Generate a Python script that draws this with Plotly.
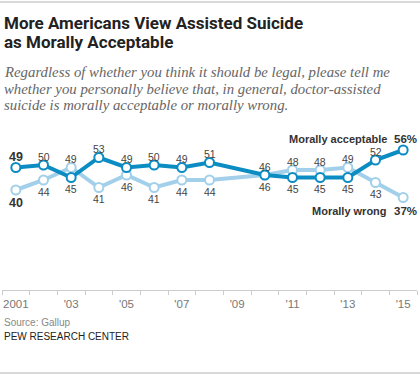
import plotly.graph_objects as go

years = [2001, 2002, 2003, 2004, 2005, 2006, 2007, 2008, 2010, 2011, 2012, 2013, 2014, 2015]
acceptable = [49, 50, 45, 53, 49, 50, 49, 51, 46, 45, 45, 45, 52, 56]
wrong = [40, 44, 49, 41, 46, 41, 44, 44, 46, 48, 48, 49, 43, 37]
# label placement: 1 = above, -1 = below, 0 = none (end label)
acc_pos = [1, 1, -1, 1, 1, 1, 1, 1, 1, -1, -1, -1, 1, 0]
wrong_pos = [-1, -1, 1, -1, -1, -1, -1, -1, -1, 1, 1, 1, -1, 0]
tick_years = [2001, 2003, 2005, 2007, 2009, 2011, 2013, 2015]
tick_text = ["2001", "'03", "'05", "'07", "'09", "'11", "'13", "'15"]

DARK = "#0b8cc2"
LIGHT = "#a2d0ea"
W, H = 420, 381
L, R, T, B = 2, 3, 140, 91

def px(p):
    return (p - L) / (W - L - R)

def py(p):
    return (H - B - p) / (H - T - B)

xs = [y + 0.5 for y in years]

fig = go.Figure()
fig.add_trace(go.Scatter(x=xs, y=wrong, mode="lines+markers",
                         line=dict(color=LIGHT, width=4),
                         marker=dict(size=9, color="white", line=dict(color=LIGHT, width=2)),
                         hoverinfo="skip"))
fig.add_trace(go.Scatter(x=xs, y=acceptable, mode="lines+markers",
                         line=dict(color=DARK, width=4),
                         marker=dict(size=9, color="white", line=dict(color=DARK, width=2)),
                         hoverinfo="skip"))

ann = []
FAM = "Liberation Sans, Arial, sans-serif"
lab_font = dict(family=FAM, size=10.5, color="#444")
bold_font = dict(family=FAM, size=12.5, color="#333", weight="bold")
for series, pos in ((acceptable, acc_pos), (wrong, wrong_pos)):
    for i, (x, v, p) in enumerate(zip(xs, series, pos)):
        if p == 0:
            continue
        shift = 8.5 if p > 0 else -11.5
        if i == 0:
            shift = 11 if p > 0 else -13
        ann.append(dict(x=x, y=v, xref="x", yref="y", text=str(v), showarrow=False,
                        yshift=shift, font=bold_font if i == 0 else lab_font))

# end labels
end_font = dict(family=FAM, size=11, color="#333", weight="bold")
pct_font = dict(family=FAM, size=11.5, color="#333", weight="bold")
ann.append(dict(x=px(389), y=py(139), xref="paper", yref="paper", xanchor="right", yanchor="middle",
                text="Morally acceptable", showarrow=False, font=end_font))
ann.append(dict(x=px(389), y=py(210.5), xref="paper", yref="paper", xanchor="right", yanchor="middle",
                text="Morally wrong", showarrow=False, font=end_font))
ann.append(dict(x=px(419), y=py(139), xref="paper", yref="paper", xanchor="right", yanchor="middle",
                text=f"{acceptable[-1]}%", showarrow=False, font=pct_font))
ann.append(dict(x=px(419), y=py(210.5), xref="paper", yref="paper", xanchor="right", yanchor="middle",
                text=f"{wrong[-1]}%", showarrow=False, font=pct_font))

# title / subtitle
title_font = dict(family="Roboto, Liberation Sans, sans-serif", size=17, color="#222", weight="bold")
for txt, yc in (("More Americans View Assisted Suicide", 23.4), ("as Morally Acceptable", 41.9)):
    ann.append(dict(x=px(2), y=py(yc), xref="paper", yref="paper", xanchor="left", yanchor="middle",
                    text=txt, showarrow=False, font=title_font))
sub_font = dict(family="Liberation Serif, serif", size=14.8, color="#666", style="italic")
for txt, yc in (("Regardless of whether you think it should be legal, please tell me", 71.7),
                ("whether you personally believe that, in general, doctor-assisted", 88.5),
                ("suicide is morally acceptable or morally wrong.", 105.3)):
    ann.append(dict(x=px(2), y=py(yc), xref="paper", yref="paper", xanchor="left", yanchor="middle",
                    text=txt, showarrow=False, font=sub_font))

ann.append(dict(x=px(2), y=py(322), xref="paper", yref="paper", xanchor="left", yanchor="middle",
                text="Source: Gallup", showarrow=False,
                font=dict(family=FAM, size=10, color="#888")))
ann.append(dict(x=px(2), y=py(336), xref="paper", yref="paper", xanchor="left", yanchor="middle",
                text="PEW RESEARCH CENTER", showarrow=False,
                font=dict(family=FAM, size=10, color="#222")))

shapes = [
    dict(type="line", xref="paper", yref="paper", x0=px(0), x1=px(420), y0=py(2), y1=py(2),
         line=dict(color="#ccc", width=1.5)),
    dict(type="line", xref="paper", yref="paper", x0=px(0), x1=px(420), y0=py(373), y1=py(373),
         line=dict(color="#ccc", width=1.5)),
]

fig.update_layout(
    width=W, height=H, margin=dict(l=L, r=R, t=T, b=B, pad=0),
    paper_bgcolor="white", plot_bgcolor="white", showlegend=False,
    annotations=ann, shapes=shapes,
    xaxis=dict(range=[2001, 2016], showgrid=False, zeroline=False,
               showline=True, linecolor="#ccc", linewidth=1,
               tickvals=[t + 0.5 for t in tick_years], ticktext=tick_text, ticks="",
               ticklabelstandoff=3,
               tickfont=dict(family=FAM, size=11.5, color="#777"),
               minor=dict(tickvals=list(range(2001, 2017)), ticks="outside", ticklen=4,
                          tickcolor="#ccc", tickwidth=1, showgrid=False),
               fixedrange=True),
    yaxis=dict(range=[0, 60], visible=False, fixedrange=True),
)

fig.write_html("out.html", config={"displayModeBar": False},
               post_script="document.body.style.margin='0';document.body.style.overflow='hidden';")
